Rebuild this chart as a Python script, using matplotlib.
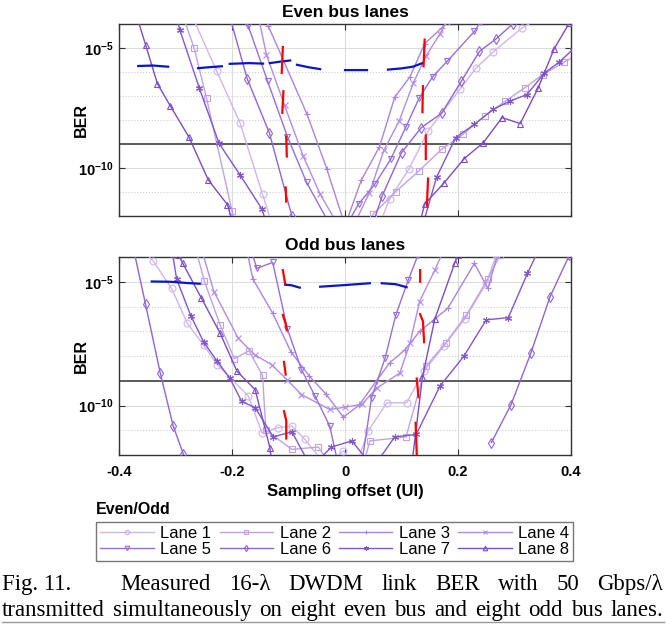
import numpy as np
import matplotlib
matplotlib.use("Agg")
import matplotlib.pyplot as plt
from matplotlib.ticker import FixedLocator, FixedFormatter, NullFormatter

plt.rcParams['font.family'] = ['Liberation Sans', 'DejaVu Sans']
plt.rcParams['axes.unicode_minus'] = False
plt.rcParams['mathtext.fontset'] = 'custom'
plt.rcParams['mathtext.rm'] = 'Liberation Sans'
plt.rcParams['mathtext.bf'] = 'Liberation Sans:bold'

nan = np.nan

# ---- data: sampling offset (UI) and log10(BER) ----
# even bus lanes
even1_x = [-0.27, -0.227, -0.186, -0.146, -0.12, 0.05, 0.079, 0.113, 0.147, 0.204, 0.232, 0.262, 0.313, 0.34]
even1_y = [-3.7, -5.97, -8.11, -11.09, -13.0, -13.0, -11.29, -10.05, -8.46, -6.70, -5.83, -5.17, -4.17, -3.8]
even2_x = [-0.285, -0.267, -0.245, -0.20, -0.19, 0.03, 0.050, 0.090, 0.131, 0.171, 0.209, 0.247, 0.284, 0.318, 0.350, 0.388, 0.41]
even2_y = [-3.8, -5.0, -7.10, -11.78, -13.0, -13.0, -11.92, -10.98, -10.12, -9.22, -8.60, -7.84, -7.21, -6.66, -6.11, -5.59, -5.3]
even3_x = [-0.145, -0.136, -0.067, -0.032, 0.0, 0.029, 0.061, 0.088, 0.115, 0.141, 0.171, 0.19]
even3_y = [-3.5, -4.07, -7.77, -10.05, -12.4, -10.50, -9.12, -7.05, -6.20, -4.82, -4.17, -3.7]
even4_x = [-0.155, -0.139, -0.107, -0.074, -0.044, 0.003, 0.043, 0.069, 0.096, 0.121, 0.143, 0.168, 0.18]
even4_y = [-3.5, -5.28, -7.39, -9.50, -11.09, -13.0, -11.04, -9.25, -8.04, -6.45, -5.35, -4.41, -3.9]
even5_x = [-0.18, -0.171, -0.137, -0.102, -0.068, -0.012, 0.024, 0.053, 0.081, 0.108, 0.131, 0.155, 0.181, 0.229, 0.24]
even5_y = [-3.5, -4.10, -6.38, -8.69, -10.60, -13.0, -11.50, -10.67, -9.63, -8.28, -7.10, -6.20, -5.55, -4.31, -3.9]
even6_x = [-0.205, -0.173, -0.134, -0.094, -0.07, 0.04, 0.066, 0.100, 0.135, 0.171, 0.206, 0.238, 0.268, 0.297, 0.31]
even6_y = [-3.6, -6.29, -8.53, -12.0, -13.0, -13.0, -11.15, -9.36, -8.32, -7.72, -6.38, -5.14, -4.61, -3.99, -3.7]
even7_x = [-0.30, -0.292, -0.258, -0.223, -0.186, -0.147, -0.13, 0.13, 0.162, 0.196, 0.229, 0.262, 0.292, 0.322, 0.353, 0.379, 0.403]
even7_y = [-3.6, -4.27, -6.66, -8.97, -10.28, -11.71, -13.0, -13.0, -10.39, -8.73, -8.18, -7.56, -7.21, -6.94, -6.04, -5.59, -5.07]
even8_x = [-0.375, -0.353, -0.332, -0.309, -0.276, -0.242, -0.208, -0.19, 0.125, 0.141, 0.175, 0.211, 0.245, 0.278, 0.310, 0.342, 0.370, 0.397]
even8_y = [-3.2, -4.86, -6.49, -7.42, -8.72, -10.5, -11.53, -13.0, -13.0, -11.50, -10.63, -9.61, -8.94, -7.90, -8.15, -6.66, -5.04, -3.96]

# odd bus lanes
odd1_x = [-0.355, -0.339, -0.307, -0.279, -0.250, -0.226, -0.171, -0.147, -0.119, -0.094, -0.071, -0.035, -0.003, 0.02, 0.041, 0.074, 0.109, 0.140, 0.175, 0.212, 0.250, 0.268]
odd1_y = [-3.8, -4.17, -5.27, -6.68, -7.57, -8.35, -9.62, -11.10, -10.90, -10.83, -11.37, -12.4, -11.84, -12.4, -11.03, -9.89, -9.89, -8.6, -7.6, -6.5, -5.07, -3.9]
odd2_x = [-0.265, -0.249, -0.221, -0.196, -0.170, -0.146, -0.140, -0.094, -0.047, -0.02, 0.03, 0.044, 0.108, 0.143, 0.178, 0.215, 0.253, 0.275]
odd2_y = [-3.6, -4.97, -6.74, -8.11, -7.79, -8.78, -11.0, -11.77, -11.68, -12.6, -12.6, -11.43, -11.27, -8.42, -7.48, -6.34, -4.87, -3.9]
odd3_x = [-0.175, -0.163, -0.128, -0.096, -0.063, -0.034, -0.003, 0.025, 0.056, 0.079, 0.106, 0.132, 0.182, 0.229, 0.253, 0.27]
odd3_y = [-3.6, -4.89, -6.27, -7.82, -8.82, -9.53, -10.47, -9.99, -8.99, -8.28, -7.75, -7.01, -6.07, -4.26, -5.27, -3.9]
odd4_x = [-0.255, -0.232, -0.189, -0.160, -0.130, -0.103, -0.077, -0.027, 0.0, 0.030, 0.056, 0.097, 0.115, 0.132, 0.159, 0.175]
odd4_y = [-3.6, -5.4, -7.28, -7.95, -8.35, -8.95, -9.56, -10.16, -10.07, -9.95, -9.3, -8.69, -7.48, -5.80, -4.53, -3.7]
odd5_x = [-0.165, -0.156, -0.128, -0.102, -0.077, -0.053, -0.027, -0.01, 0.028, 0.047, 0.071, 0.090, 0.112, 0.129]
odd5_y = [-3.8, -4.46, -4.22, -6.90, -8.55, -9.62, -10.83, -12.6, -12.6, -9.69, -8.08, -6.34, -4.93, -3.93]
odd6_x = [-0.375, -0.353, -0.327, -0.304, -0.286, -0.28, nan, 0.259, 0.294, 0.329, 0.363, 0.397]
odd6_y = [-3.6, -5.91, -8.69, -10.83, -11.97, -13.0, nan, -11.50, -9.96, -7.88, -5.60, -3.93]
odd7_x = [-0.305, -0.298, -0.273, -0.250, -0.226, -0.204, -0.183, -0.159, -0.127, -0.094, -0.06, -0.024, 0.012, 0.05, 0.088, 0.126, 0.168, 0.210, 0.250, 0.289, 0.323, 0.345]
odd7_y = [-3.9, -4.89, -6.37, -7.44, -8.22, -8.89, -9.83, -10.09, -11.27, -11.06, -12.5, -11.68, -11.43, -12.5, -11.27, -11.17, -9.22, -8.02, -6.54, -6.45, -4.66, -3.6]
odd8_x = [-0.295, -0.287, -0.254, -0.221, -0.191, -0.159, -0.133, -0.125, 0.115, 0.137, 0.159, 0.194, 0.2]
odd8_y = [-3.9, -4.26, -5.67, -7.08, -8.62, -9.36, -11.70, -13.0, -13.0, -8.86, -6.50, -4.26, -3.9]

# red: eye edge markers, blue: reference trace (nan separates pieces)
even_red_x = [-0.110, -0.112, nan, -0.109, -0.111, nan, -0.104, -0.103, nan, -0.105, -0.104, nan,
              0.141, 0.139, nan, 0.138, 0.137, nan, 0.143, 0.143, nan, 0.147, 0.145]
even_red_y = [-4.96, -6.04, nan, -6.80, -7.70, nan, -8.69, -9.52, nan, -10.81, -11.40, nan,
              -4.65, -5.76, nan, -6.59, -7.67, nan, -8.64, -9.63, nan, -10.44, -11.57]
even_blue_x = [-0.366, -0.34, -0.313, nan, -0.26, -0.24, -0.218, nan, -0.204, -0.17, -0.145, nan,
               -0.133, -0.115, -0.097, nan, -0.085, -0.065, -0.044, nan, 0.0, 0.039, nan,
               0.076, 0.10, 0.12, 0.138]
even_blue_y = [-5.75, -5.73, -5.78, nan, -5.84, -5.80, -5.76, nan, -5.66, -5.63, -5.65, nan,
               -5.63, -5.57, -5.52, nan, -5.70, -5.80, -5.88, nan, -5.92, -5.92, nan,
               -5.90, -5.85, -5.78, -5.62]
odd_red_x = [-0.110, -0.106, nan, -0.110, -0.105, -0.103, nan, -0.108, -0.105, nan, -0.108, -0.104, -0.104, nan,
             0.133, 0.133, nan, 0.133, 0.138, 0.140, nan, 0.127, 0.130, nan, 0.125, 0.127]
odd_red_y = [-4.53, -5.07, nan, -6.34, -6.70, -6.94, nan, -8.24, -8.75, nan, -10.23, -10.60, -11.33, nan,
             -4.53, -5.00, nan, -6.31, -6.60, -7.44, nan, -8.91, -9.66, nan, -10.70, -11.97]
odd_blue_x = [-0.342, -0.31, -0.28, -0.257, nan, -0.106, -0.095, -0.080, nan,
              -0.044, -0.01, 0.02, 0.044, nan, 0.065, 0.09, 0.109]
odd_blue_y = [-4.99, -5.00, -5.05, -5.08, nan, -5.12, -5.14, -5.24, nan,
              -5.20, -5.15, -5.10, -5.06, nan, -5.06, -5.10, -5.22]

BER_THRESHOLD = 1e-9
LANE_LABELS = ["Lane 1", "Lane 2", "Lane 3", "Lane 4", "Lane 5", "Lane 6", "Lane 7", "Lane 8"]
X_TICKS = [-0.4, -0.2, 0, 0.2, 0.4]
X_TICK_LABELS = ["-0.4", "-0.2", "0", "0.2", "0.4"]

# styles
LANE_MARKERS = ['o', 's', '+', 'x', 'v', 'd', (6, 2, 0), '^']
LANE_COLORS = ['#ceb6f0', '#bfa3ea', '#a985e0', '#b08ee6', '#9670da', '#8f66d6', '#8157cc', '#7a4ec4']

even_x = [even1_x, even2_x, even3_x, even4_x, even5_x, even6_x, even7_x, even8_x]
even_y = [even1_y, even2_y, even3_y, even4_y, even5_y, even6_y, even7_y, even8_y]
odd_x = [odd1_x, odd2_x, odd3_x, odd4_x, odd5_x, odd6_x, odd7_x, odd8_x]
odd_y = [odd1_y, odd2_y, odd3_y, odd4_y, odd5_y, odd6_y, odd7_y, odd8_y]

W, H = 666, 625
fig = plt.figure(figsize=(W / 100, H / 100), dpi=100)


def box(left, top, right, bottom):
    """Pixel box -> figure fraction rect."""
    return [left / W, 1 - bottom / H, (right - left) / W, (bottom - top) / H]


def draw_panel(ax, xs, ys, red_x, red_y, blue_x, blue_y, title, show_x):
    for i in range(8):
        ax.semilogy(xs[i], 10.0 ** np.array(ys[i]), color=LANE_COLORS[i],
                    marker=LANE_MARKERS[i], ms=5, mfc='none', mew=0.8, lw=1.0,
                    label=LANE_LABELS[i], zorder=3)
    ax.semilogy(blue_x, 10.0 ** np.array(blue_y), color='#0a14c8', lw=1.6, zorder=4)
    ax.semilogy(red_x, 10.0 ** np.array(red_y), color='#ff0000', lw=1.6, zorder=4)
    ax.axhline(BER_THRESHOLD, color='#5a5a5a', lw=1.4, zorder=2)

    ax.set_xlim(-0.4, 0.4)
    ax.set_ylim(1e-12, 1e-4)
    ax.xaxis.set_major_locator(FixedLocator(X_TICKS))
    ax.xaxis.set_major_formatter(FixedFormatter(X_TICK_LABELS))
    ax.yaxis.set_major_locator(FixedLocator([1e-10, 1e-5]))
    ax.yaxis.set_major_formatter(FixedFormatter([r'$\mathbf{10^{-10}}$', r'$\mathbf{10^{-5}}$']))
    ax.yaxis.set_minor_locator(FixedLocator([10.0 ** k for k in range(-12, -3) if k not in (-5, -10)]))
    ax.yaxis.set_minor_formatter(NullFormatter())
    ax.tick_params(which='major', direction='in', top=True, right=True, length=4,
                   width=0.8, color='#333333', labelsize=10.5, pad=4)
    ax.tick_params(axis='x', pad=7)
    ax.tick_params(which='minor', length=0)
    ax.tick_params(axis='x', labelbottom=show_x)
    for lab in ax.get_xticklabels():
        lab.set_fontweight('bold')
    ax.grid(True, which='major', color='#dcdcdc', lw=0.8, zorder=0)
    ax.grid(True, which='minor', axis='y', color='#cfcfcf', ls=':', lw=0.8, zorder=0)
    for s in ax.spines.values():
        s.set_color('#333333')
        s.set_linewidth(1.0)
    ax.set_title(title, fontweight='bold', fontsize=12.5, pad=5)
    ax.set_ylabel('BER', fontweight='bold', fontsize=11.5)
    ax.yaxis.set_label_coords(-0.066, 0.5)


ax_even = fig.add_axes(box(119, 24, 571, 216))
ax_odd = fig.add_axes(box(119, 257, 571, 455))
draw_panel(ax_even, even_x, even_y, even_red_x, even_red_y, even_blue_x, even_blue_y,
           'Even bus lanes', False)
draw_panel(ax_odd, odd_x, odd_y, odd_red_x, odd_red_y, odd_blue_x, odd_blue_y,
           'Odd bus lanes', True)
ax_odd.set_xlabel('Sampling offset (UI)', fontweight='bold', fontsize=12, labelpad=4)

# legend is filled row by row in the reference (Lane 1..4 on top)
handles, labels = ax_odd.get_legend_handles_labels()
order = [0, 4, 1, 5, 2, 6, 3, 7]
leg = fig.legend([handles[i] for i in order], [labels[i] for i in order],
                 loc='upper left', bbox_to_anchor=(96 / W, 1 - 522 / H),
                 ncol=4, fontsize=12, frameon=True, fancybox=False, edgecolor='#555555',
                 handlelength=3.2, handletextpad=0.4, columnspacing=0.5, labelspacing=0.05,
                 borderpad=0.25, borderaxespad=0, markerscale=0.65)
leg.get_frame().set_linewidth(1.0)
fig.text(96 / W, 1 - 510 / H, 'Even/Odd', fontweight='bold', fontsize=11.5, va='center')

# caption, justified by hand
renderer = fig.canvas.get_renderer()
cap_lines = [
    (["Fig. 11.", "Measured", "16-λ", "DWDM", "link", "BER", "with", "50", "Gbps/λ"], 590, [2.7] + [1] * 7),
    (["transmitted", "simultaneously", "on", "eight", "even", "bus", "and", "eight", "odd", "bus", "lanes."], 616, [1] * 10),
]
x_left, x_right = 2, 663
for words, base, weights in cap_lines:
    texts = [fig.text(0, 1 - base / H, w, family='Liberation Serif', fontsize=16.5, va='baseline')
             for w in words]
    widths = [t.get_window_extent(renderer).width for t in texts]
    unit = (x_right - x_left - sum(widths)) / sum(weights)
    pos = x_left
    for i, t in enumerate(texts):
        t.set_x(pos / W)
        pos += widths[i]
        if i < len(weights):
            pos += unit * weights[i]
fig.add_artist(plt.Line2D([2 / W, 664 / W], [1 - 622 / H, 1 - 622 / H], color='#9a9a9a', lw=1.0))

fig.savefig('out.png', dpi=100)
